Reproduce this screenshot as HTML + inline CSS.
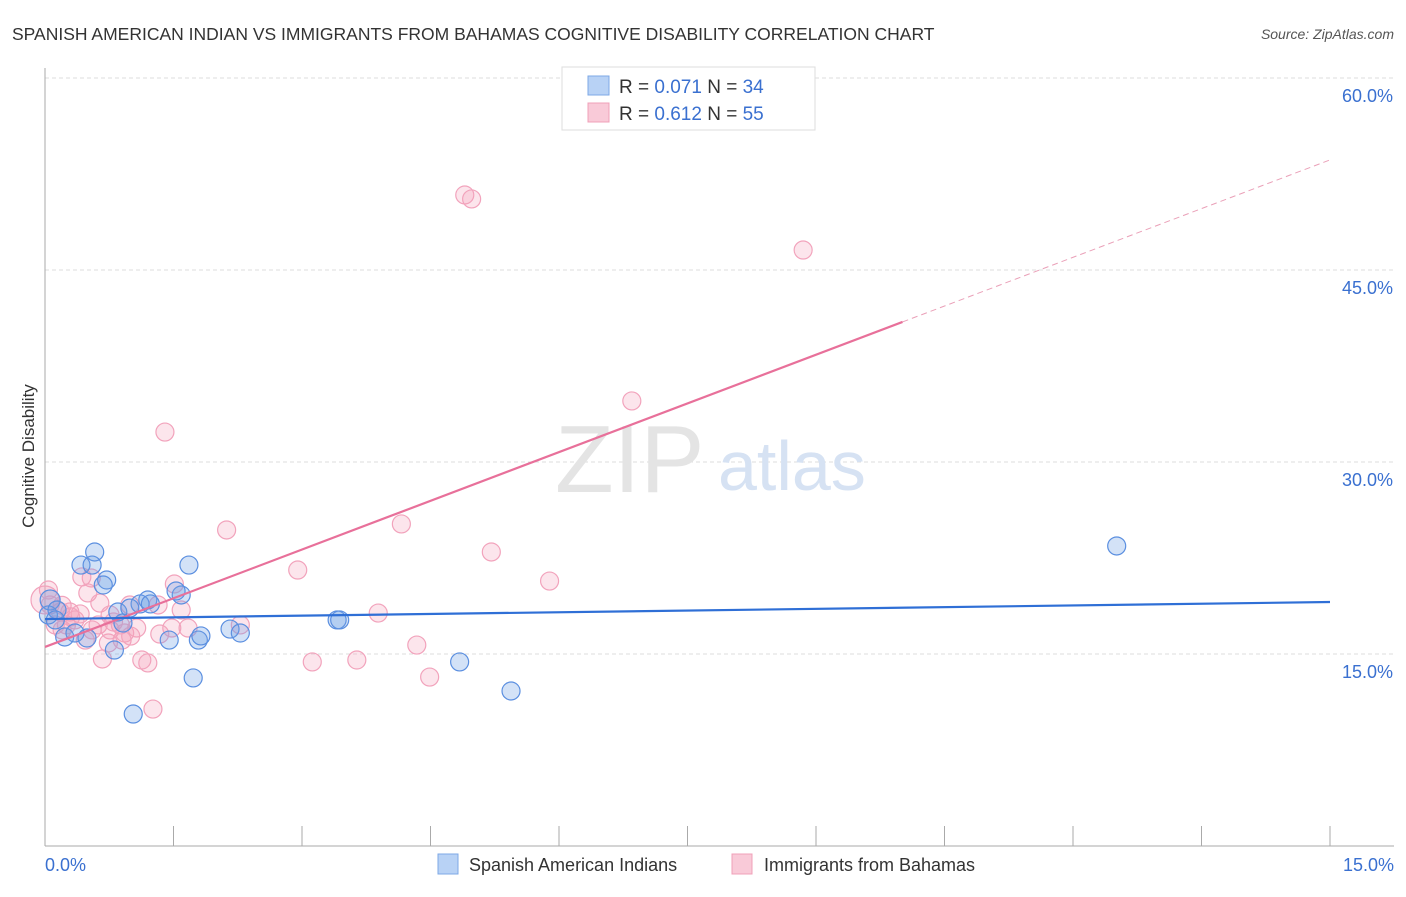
<!DOCTYPE html>
<html><head><meta charset="utf-8"><style>
body{margin:0;background:#fff;font-family:"Liberation Sans",sans-serif}
svg text{font-family:"Liberation Sans",sans-serif}
</style></head><body>
<svg id="c" width="1406" height="892">
<text x="12" y="40" font-size="17.5" fill="#333">SPANISH AMERICAN INDIAN VS IMMIGRANTS FROM BAHAMAS COGNITIVE DISABILITY CORRELATION CHART</text>
<text x="1394" y="39" font-size="14" fill="#555" text-anchor="end" font-style="italic">Source: ZipAtlas.com</text>
<text x="34" y="456" font-size="17" fill="#333" text-anchor="middle" transform="rotate(-90 34 456)">Cognitive Disability</text>
<g id="grid"></g>
<text x="555" y="492" font-size="96" fill="#e4e4e4" font-family="Liberation Serif">ZIP</text>
<text x="718" y="490" font-size="70" fill="#d6e2f3">atlas</text>
<g id="marks"></g>
<g>
<rect x="562" y="67" width="253" height="63" fill="#fff" stroke="#ddd"/>
<rect x="588" y="76" width="21" height="19" fill="#b8d2f5" stroke="#7ea8e6"/>
<rect x="588" y="103" width="21" height="19" fill="#f9cad8" stroke="#f0a0b8"/>
<text x="619" y="93" font-size="19" fill="#333">R = <tspan fill="#3a70d0">0.071</tspan>   N = <tspan fill="#3a70d0">34</tspan></text>
<text x="619" y="120" font-size="19" fill="#333">R =  <tspan fill="#3a70d0">0.612</tspan>   N = <tspan fill="#3a70d0">55</tspan></text>
</g>
<g>
<rect x="438" y="854" width="20" height="20" fill="#b8d2f5" stroke="#7ea8e6"/>
<text x="469" y="871" font-size="18" fill="#333">Spanish American Indians</text>
<rect x="732" y="854" width="20" height="20" fill="#f9cad8" stroke="#f0a0b8"/>
<text x="764" y="871" font-size="18" fill="#333">Immigrants from Bahamas</text>
</g>
</svg>
<script>
const blueX=[0.58,0.42,0.55,0.72,0.68,1.68,1.20,1.11,1.59,1.53,0.85,0.99,0.91,0.06,0.04,0.14,0.23,0.35,0.49,0.81,1.45,1.79,1.82,2.16,2.28,3.41,3.44,4.84,5.44,1.73,1.03,12.51,1.23,0.12];
const blueY=[22.97,21.95,21.95,20.78,20.39,21.95,19.22,18.91,19.61,19.92,18.28,18.59,17.42,19.22,18.05,18.44,16.33,16.64,16.25,15.31,16.09,16.09,16.41,16.95,16.64,17.66,17.66,14.38,12.11,13.13,10.31,23.44,18.91,17.66];
const pinkX=[4.90,4.98,8.85,6.85,1.40,2.12,4.16,5.21,5.89,2.95,3.89,3.12,3.64,4.34,4.49,1.26,0.43,0.54,0.50,0.64,0.18,0.29,0.41,0.76,0.99,1.32,1.51,1.59,1.67,2.28,1.48,1.07,1.34,0.93,0.88,0.62,0.74,0.90,0.67,1.13,1.20,0.0,0.06,0.12,0.20,0.35,0.47,0.55,0.76,0.25,0.04,0.3,0.8,1.0,0.2];
const pinkY=[50.86,50.55,46.56,34.77,32.34,24.69,25.16,22.97,20.70,21.56,18.20,14.38,14.53,15.70,13.20,10.70,21.02,20.94,19.77,18.98,18.28,18.28,18.13,18.05,18.83,18.83,20.47,18.44,17.03,17.27,17.03,17.03,16.56,16.64,17.27,17.27,15.86,16.09,14.61,14.53,14.30,19.22,18.83,17.27,16.88,17.66,16.09,16.88,16.88,17.27,20.0,17.9,17.5,16.4,18.8];
const yTicks=[15,30,45,60];
const yTickLabels=["15.0%","30.0%","45.0%","60.0%"];
const xTickLabels=["0.0%","15.0%"];
const blueTrend=[17.73,19.06];
const pinkTrend=[15.55,53.6];
const pinkSolidEnd=10.01;
const NS="http://www.w3.org/2000/svg";
const X=v=>45+v/15*1285, Y=v=>846-v*12.8;
function mk(t,a,p){const e=document.createElementNS(NS,t);for(const k in a)e.setAttribute(k,a[k]);p.appendChild(e);return e;}
const g=document.getElementById('grid'), m=document.getElementById('marks');
yTicks.forEach((t,i)=>{
 const l=mk('line',{x1:45,x2:1394,y1:Y(t),y2:Y(t),stroke:'#ddd','stroke-dasharray':'4,3'},g);
 
 
 const tx=mk('text',{x:1393,y:Y(t)+24,'font-size':18,fill:'#3a70d0','text-anchor':'end'},g);
 tx.textContent=yTickLabels[i];
 
 
});
const ax=mk('line',{x1:45,x2:45,y1:68,y2:846,stroke:'#aaa'},g);


const bx=mk('line',{x1:45,x2:1394,y1:846,y2:846,stroke:'#aaa'},g);


for(let i=0;i<=10;i++){
 const t=mk('line',{x1:X(i*1.5),x2:X(i*1.5),y1:826,y2:846,stroke:'#aaa'},g);
 
 
}
[[0,'start',45],[15,'end',1394]].forEach((d,i)=>{
 const t=mk('text',{x:d[2],y:871,'font-size':18,fill:'#3a70d0','text-anchor':d[1]},g);
 t.textContent=xTickLabels[i];
 
 
});
pinkX.forEach((x,i)=>{
 const c=mk('circle',{cx:X(x),cy:Y(pinkY[i]),r:i==41?14:9,fill:'rgba(243,160,188,0.28)',stroke:'#f2a3bc','stroke-width':1.2},m);
 
 
});
blueX.forEach((x,i)=>{
 const c=mk('circle',{cx:X(x),cy:Y(blueY[i]),r:i==13?10:9,fill:'rgba(110,160,230,0.3)',stroke:'#5b8fe0','stroke-width':1.2},m);
 
 
});
const pv=x=>pinkTrend[0]+(pinkTrend[1]-pinkTrend[0])*x/15;
const pl=mk('line',{x1:X(0),y1:Y(pinkTrend[0]),x2:X(pinkSolidEnd),y2:Y(pv(pinkSolidEnd)),stroke:'#e8709a','stroke-width':2.2},m);


const pd=mk('line',{x1:X(pinkSolidEnd),y1:Y(pv(pinkSolidEnd)),x2:X(15),y2:Y(pinkTrend[1]),stroke:'#eaa0b8','stroke-width':1,'stroke-dasharray':'6,4'},m);


const bl=mk('line',{x1:X(0),y1:Y(blueTrend[0]),x2:X(15),y2:Y(blueTrend[1]),stroke:'#2f6fd6','stroke-width':2.2},m);


</script>
</body></html>
